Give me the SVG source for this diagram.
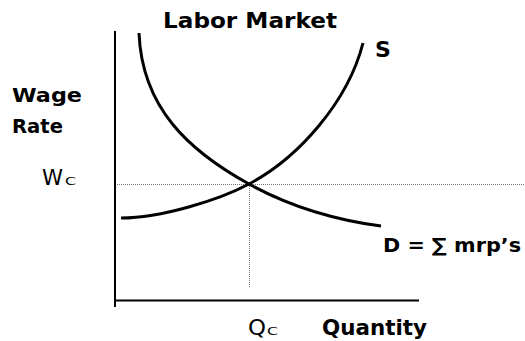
<svg xmlns="http://www.w3.org/2000/svg" width="525" height="341" viewBox="0 0 525 341">
<style>
.b{font-family:"DejaVu Sans","Liberation Sans",sans-serif;font-weight:bold;fill:#000}
.n{font-family:"DejaVu Sans","Liberation Sans",sans-serif;font-weight:normal;fill:#000}
.axis{stroke:#000;stroke-width:2;fill:none}
.curve{stroke:#000;stroke-width:3;fill:none}
.dot{stroke:#777;stroke-width:1;stroke-dasharray:1 1;fill:none}
</style>
<rect width="525" height="341" fill="#fff"/>
<g id="connectors">
<line class="dot" x1="117" y1="184.5" x2="525" y2="184.5"/>
<line class="dot" x1="249.5" y1="184" x2="249.5" y2="287"/>
<line class="axis" x1="115" y1="31" x2="115" y2="307"/>
<line class="axis" x1="114" y1="300.5" x2="419" y2="300.5"/>
</g>
<g id="demand">
<path class="curve" d="M139,33 C142,108 189,151 249,184 C289,206 336,220 381,226"/>
</g>
<g id="supply">
<path class="curve" d="M121,218 C161,218 219,200 249,184 C299,157.5 348,101.5 363,43"/>
</g>
<g id="title"><text class="b" x="163" y="28" font-size="22" textLength="174" lengthAdjust="spacingAndGlyphs">Labor Market</text></g>
<g id="label-s"><text class="b" x="375" y="57" font-size="22">S</text></g>
<g id="label-wage"><text class="b" x="12" y="101.5" font-size="20" textLength="70" lengthAdjust="spacingAndGlyphs">Wage</text>
<text class="b" x="12" y="133" font-size="20" textLength="51" lengthAdjust="spacingAndGlyphs">Rate</text></g>
<g id="label-wc"><text class="n" x="42" y="184.5" font-size="22" textLength="21" lengthAdjust="spacingAndGlyphs">W</text><text class="n" x="65" y="184.5" font-size="10" textLength="11" lengthAdjust="spacingAndGlyphs">C</text></g>
<g id="label-d"><text class="b" x="383" y="251.7" font-size="19.5" textLength="138" lengthAdjust="spacingAndGlyphs">D = ∑ mrp’s</text></g>
<g id="label-qc"><text class="n" x="248" y="335" font-size="22" textLength="18" lengthAdjust="spacingAndGlyphs">Q</text><text class="n" x="267" y="335" font-size="10" textLength="11" lengthAdjust="spacingAndGlyphs">C</text></g>
<g id="label-quantity"><text class="b" x="322" y="335" font-size="21" textLength="105" lengthAdjust="spacingAndGlyphs">Quantity</text></g>
</svg>
